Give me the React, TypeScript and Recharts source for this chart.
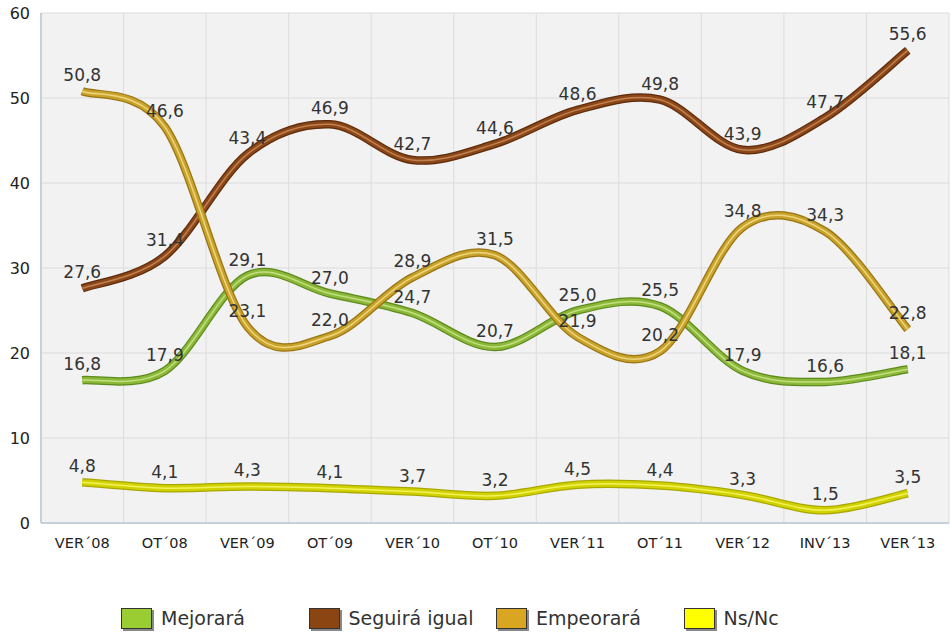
import React from "react";
import {
  LineChart,
  Line,
  XAxis,
  YAxis,
  CartesianGrid,
  Legend,
  LabelList,
} from "recharts";

// periodos de la encuesta
const periodos = [
  "VER´08",
  "OT´08",
  "VER´09",
  "OT´09",
  "VER´10",
  "OT´10",
  "VER´11",
  "OT´11",
  "VER´12",
  "INV´13",
  "VER´13",
];

const mejorara = [16.8, 17.9, 29.1, 27.0, 24.7, 20.7, 25.0, 25.5, 17.9, 16.6, 18.1];
const seguiraIgual = [27.6, 31.4, 43.4, 46.9, 42.7, 44.6, 48.6, 49.8, 43.9, 47.7, 55.6];
const empeorara = [50.8, 46.6, 23.1, 22.0, 28.9, 31.5, 21.9, 20.2, 34.8, 34.3, 22.8];
const nsnc = [4.8, 4.1, 4.3, 4.1, 3.7, 3.2, 4.5, 4.4, 3.3, 1.5, 3.5];

const yTicks = [0, 10, 20, 30, 40, 50, 60];

const data = periodos.map((p, i) => ({
  name: p,
  mejorara: mejorara[i],
  seguira: seguiraIgual[i],
  empeorara: empeorara[i],
  nsnc: nsnc[i],
}));

// colores: borde oscuro, color base, brillo
const series = [
  { key: "mejorara", label: "Mejorará", edge: "#5d8a1c", base: "#8cb83a", light: "#c2df7e", box: "#9acd32" },
  { key: "seguira", label: "Seguirá igual", edge: "#5e2c0c", base: "#8b4718", light: "#c08050", box: "#8b4513" },
  { key: "empeorara", label: "Empeorará", edge: "#987512", base: "#c9a22c", light: "#ecd57a", box: "#daa520" },
  { key: "nsnc", label: "Ns/Nc", edge: "#a8a800", base: "#d2d200", light: "#f2f25a", box: "#ffff00" },
];

// curva suavizada tipo Excel (catmull-rom)
const curvaSuave = (context: any) => {
  let pts: number[][] = [];
  return {
    areaStart() {},
    areaEnd() {},
    lineStart() {
      pts = [];
    },
    point(x: number, y: number) {
      pts.push([+x, +y]);
    },
    lineEnd() {
      if (!pts.length) return;
      context.moveTo(pts[0][0], pts[0][1]);
      for (let i = 0; i < pts.length - 1; i++) {
        const p0 = pts[i - 1] || pts[i];
        const p1 = pts[i];
        const p2 = pts[i + 1];
        const p3 = pts[i + 2] || pts[i + 1];
        context.bezierCurveTo(
          p1[0] + (p2[0] - p0[0]) / 6,
          p1[1] + (p2[1] - p0[1]) / 6,
          p2[0] - (p3[0] - p1[0]) / 6,
          p2[1] - (p3[1] - p1[1]) / 6,
          p2[0],
          p2[1]
        );
      }
    },
  };
};

const fmt = (v: any) => Number(v).toFixed(1).replace(".", ",");

const renderLegend = () => (
  <div style={{ position: "relative", width: 951, height: 30 }}>
    {series.map((s, i) => (
      <div
        key={s.key}
        style={{
          position: "absolute",
          left: 121 + i * 187.5,
          top: 0,
          display: "flex",
          alignItems: "center",
          fontFamily: "DejaVu Sans",
          fontSize: 19,
          color: "#333",
        }}
      >
        <div
          style={{
            width: 29,
            height: 19,
            background: s.box,
            border: "1px solid #333",
            boxShadow: "2px 2px 0 #888",
            marginRight: 9,
          }}
        />
        <span>{s.label}</span>
      </div>
    ))}
  </div>
);

export default function App() {
  return (
    <div
      style={{
        position: "absolute",
        left: 0,
        top: 0,
        width: 951,
        height: 638,
        background: "#fff",
      }}
    >
      <LineChart
        width={951}
        height={638}
        data={data}
        margin={{ top: 13, right: 2, left: 0, bottom: 55 }}
      >
        <CartesianGrid
          fill="#f2f2f2"
          stroke="#dcdcdc"
          strokeWidth={1}
          verticalCoordinatesGenerator={({ offset }: any) =>
            periodos
              .map((_, i) => offset.left + (i * offset.width) / periodos.length)
              .concat(offset.left + offset.width)
          }
        />
        <XAxis
          dataKey="name"
          scale="band"
          axisLine={{ stroke: "#c6d0dc", strokeWidth: 2 }}
          tickLine={false}
          tickSize={0}
          tickMargin={15}
          interval={0}
          height={30}
          tick={{ fill: "#222", fontSize: 14.5, fontFamily: "DejaVu Sans" }}
        />
        <YAxis
          domain={[0, 60]}
          ticks={yTicks}
          width={41}
          axisLine={{ stroke: "#c6d0dc", strokeWidth: 2 }}
          tickLine={false}
          tickSize={0}
          tickMargin={11}
          tick={{ fill: "#222", fontSize: 16, fontFamily: "DejaVu Sans" }}
        />
        <Legend
          verticalAlign="bottom"
          content={renderLegend}
          wrapperStyle={{ position: "absolute", left: 0, top: 607, width: 951 }}
        />
        {/* etiquetas primero, las líneas las tapan */}
        {series.map((s) => (
          <Line
            key={"lbl-" + s.key}
            dataKey={s.key}
            type={curvaSuave as any}
            stroke="none"
            dot={false}
            activeDot={false}
            isAnimationActive={false}
          >
            <LabelList
              dataKey={s.key}
              position="top"
              offset={10}
              formatter={fmt}
              style={{ fill: "#333", fontSize: 17, fontFamily: "DejaVu Sans" }}
            />
          </Line>
        ))}
        {series.flatMap((s) => [
          <Line
            key={s.key + "-edge"}
            dataKey={s.key}
            type={curvaSuave as any}
            stroke={s.edge}
            strokeWidth={8.5}
            strokeLinecap="butt"
            dot={false}
            activeDot={false}
            isAnimationActive={false}
          />,
          <Line
            key={s.key + "-base"}
            dataKey={s.key}
            type={curvaSuave as any}
            stroke={s.base}
            strokeWidth={6}
            strokeLinecap="butt"
            dot={false}
            activeDot={false}
            isAnimationActive={false}
          />,
          <Line
            key={s.key + "-light"}
            dataKey={s.key}
            type={curvaSuave as any}
            stroke={s.light}
            strokeWidth={1.5}
            strokeLinecap="butt"
            dot={false}
            activeDot={false}
            isAnimationActive={false}
          />,
        ])}
      </LineChart>
    </div>
  );
}
